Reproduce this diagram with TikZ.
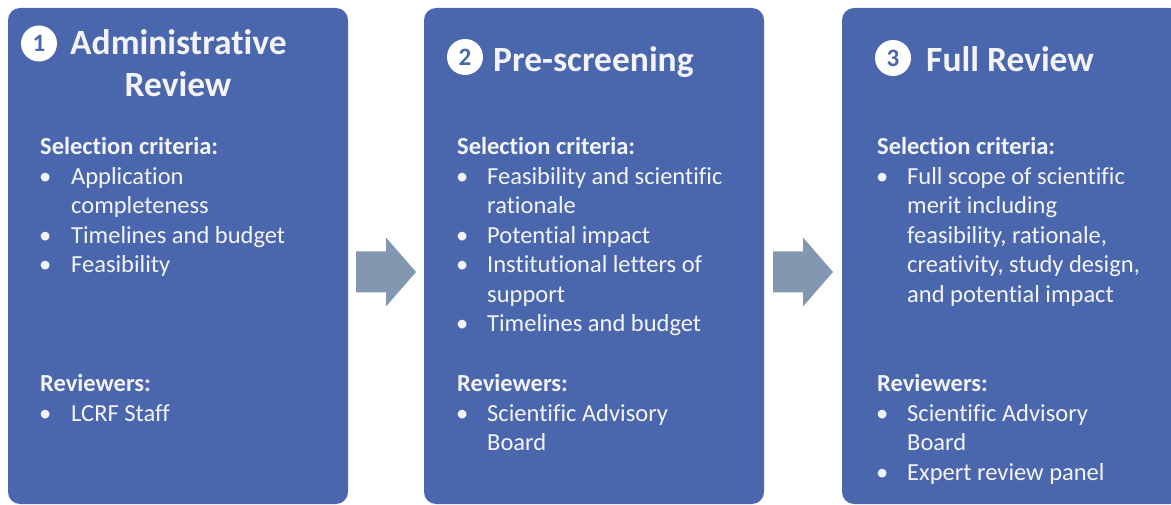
\documentclass[tikz,border=0pt]{standalone}
\usepackage{fontspec}
\setmainfont{Carlito}[Ligatures=NoCommon]
\usetikzlibrary{calc}
\definecolor{boxblue}{HTML}{4A67AD}
\definecolor{arrowgray}{HTML}{8497B0}
\definecolor{txt}{HTML}{F4F4F8}
\begin{document}
\begin{tikzpicture}[x=1pt,y=-1pt,
  panel/.style={fill=boxblue, rounded corners=12pt, minimum width=340pt, minimum height=496pt, inner sep=0pt, draw=none},
  num/.style={circle, fill=white, minimum size=36pt, inner sep=0pt, text=boxblue, font=\bfseries\fontsize{25}{25}\selectfont},
  ttl/.style={text=txt, font=\bfseries\fontsize{35.5}{40}\selectfont, inner sep=0pt, anchor=base west},
  hd/.style={text=txt, font=\bfseries\fontsize{24.5}{29.5}\selectfont, inner sep=0pt, anchor=base west},
  itm/.style={text=txt, font=\fontsize{24.5}{29.5}\selectfont, inner sep=0pt, anchor=base west},
  bul/.style={text=txt, font=\fontsize{24.5}{29.5}\selectfont, inner sep=0pt, anchor=base west},
  blockarrow/.style={fill=arrowgray}
]
\useasboundingbox (0,0) rectangle (1171,505);

% panels
\node[panel] (p1) at (178,256) {};
\node[panel] (p2) at (594,256) {};
\node[panel] (p3) at (1012,256) {};

% block arrows
\coordinate (a1) at (386,272);
\coordinate (a2) at (803,272);
\fill[blockarrow, shift={(a1)}] (-30,-20.5) -- (0,-20.5) -- (0,-34.5) -- (30,0) -- (0,34.5) -- (0,20.5) -- (-30,20.5) -- cycle;
\fill[blockarrow, shift={(a2)}] (-30,-20.5) -- (0,-20.5) -- (0,-34.5) -- (30,0) -- (0,34.5) -- (0,20.5) -- (-30,20.5) -- cycle;

% panel 1
\node[num] (n1) at (39,43.5) {1};
\node[ttl] (t1a) at (70,55) {Administrative};
\node[ttl, anchor=base] (t1b) at (178,97) {Review};
\node[hd] (s1) at (40,155) {Selection criteria:};
\node[bul] (b1a) at (39,185) {•};
\node[itm] (i1a) at (71,185) {Application};
\node[itm] (i1a2) at (71,214) {completeness};
\node[bul] (b1b) at (39,244) {•};
\node[itm] (i1b) at (71,244) {Timelines and budget};
\node[bul] (b1c) at (39,273) {•};
\node[itm] (i1c) at (71,273) {Feasibility};
\node[hd] (r1) at (40,391) {Reviewers:};
\node[bul] (b1d) at (39,421) {•};
\node[itm] (i1d) at (71,421) {LCRF Staff};

% panel 2
\node[num] (n2) at (465,57) {2};
\node[ttl] (t2) at (493,72) {Pre-screening};
\node[hd] (s2) at (457,155) {Selection criteria:};
\node[bul] (b2a) at (456,185) {•};
\node[itm] (i2a) at (487,185) {Feasibility and scientific};
\node[itm] (i2a2) at (487,214) {rationale};
\node[bul] (b2b) at (456,244) {•};
\node[itm] (i2b) at (487,244) {Potential impact};
\node[bul] (b2c) at (456,273) {•};
\node[itm] (i2c) at (487,273) {Institutional letters of};
\node[itm] (i2c2) at (487,303) {support};
\node[bul] (b2d) at (456,332) {•};
\node[itm] (i2d) at (487,332) {Timelines and budget};
\node[hd] (r2) at (457,391) {Reviewers:};
\node[bul] (b2e) at (456,421) {•};
\node[itm] (i2e) at (487,421) {Scientific Advisory};
\node[itm] (i2e2) at (487,450) {Board};

% panel 3
\node[num] (n3) at (893,58) {3};
\node[ttl] (t3) at (926,72) {Full Review};
\node[hd] (s3) at (877,155) {Selection criteria:};
\node[bul] (b3a) at (876,185) {•};
\node[itm] (i3a) at (907,185) {Full scope of scientific};
\node[itm] (i3a2) at (907,214) {merit including};
\node[itm] (i3a3) at (907,244) {feasibility, rationale,};
\node[itm] (i3a4) at (907,273) {creativity, study design,};
\node[itm] (i3a5) at (907,303) {and potential impact};
\node[hd] (r3) at (877,391) {Reviewers:};
\node[bul] (b3b) at (876,421) {•};
\node[itm] (i3b) at (907,421) {Scientific Advisory};
\node[itm] (i3b2) at (907,450) {Board};
\node[bul] (b3c) at (876,480) {•};
\node[itm] (i3c) at (907,480) {Expert review panel};
\end{tikzpicture}
\end{document}
